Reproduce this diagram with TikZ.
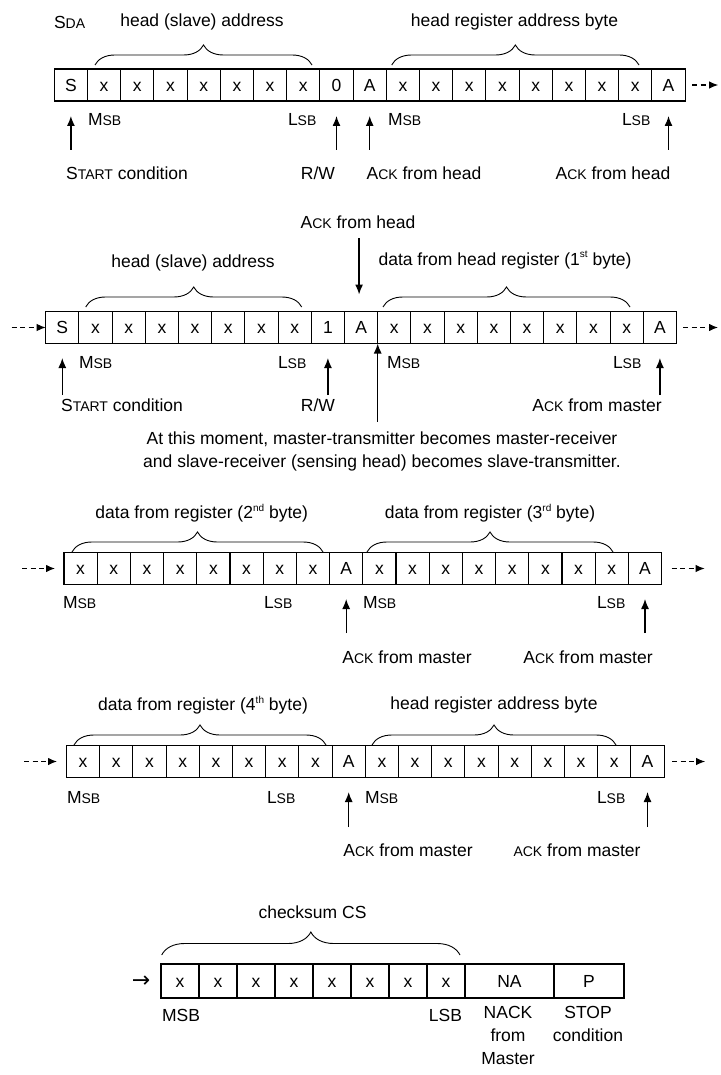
\documentclass[tikz,border=0pt]{standalone}
\usepackage{fontspec}
\setmainfont{Liberation Sans}
\newfontfamily\symbfont{DejaVu Sans}
\usetikzlibrary{arrows.meta,decorations.pathreplacing}
\newcommand\sml[1]{{\fontsize{14}{16}\selectfont #1}}
\newcommand\sups[1]{\raisebox{0.8ex}{\fontsize{10}{10}\selectfont #1}}
\begin{document}
\begin{tikzpicture}[x=1pt,y=-1pt,
  every node/.style={font=\fontsize{17.5}{23}\selectfont, inner sep=0pt, outer sep=0pt},
  cell/.style={draw, line width=1.1pt, minimum width=33.2pt, minimum height=32pt, anchor=west, text height=12.6pt, text depth=0pt},
  arr/.style={line width=1.3pt, -{Latex[length=10pt,width=8pt]}},
  darr/.style={line width=1.1pt, dash pattern=on 5pt off 3.5pt, -{Latex[length=9pt,width=7.5pt]}},
  brc/.style={line width=0.9pt, decorate, decoration={brace, amplitude=20pt}},
]
\useasboundingbox (0,0) rectangle (720,1075);

% ---------- Row 1 ----------
\foreach \t [count=\i from 0] in {S,x,x,x,x,x,x,x,0,A,x,x,x,x,x,x,x,x,A}
  \node[cell] (a\i) at ({54.3+\i*33.2},85) {\t};
\node[anchor=west] (sda) at (54,22) {S\sml{DA}};
\node (t1a) at (202,22) {head (slave) address};
\node (t1b) at (514.5,22) {head register address byte};
\draw[brc] (95,65) -- (312,65);
\draw[brc] (391.7,65) -- (639,65);
\node[anchor=west] (m1a) at (88,120) {M\sml{SB}};
\node[anchor=west] (l1a) at (288,120) {L\sml{SB}};
\node[anchor=west] (m1b) at (388,120) {M\sml{SB}};
\node[anchor=west] (l1b) at (622,120) {L\sml{SB}};
\node (s1) at (127,173) {S\sml{TART} condition};
\node (rw1) at (318,173) {R/W};
\node (k1a) at (424,173) {A\sml{CK} from head};
\node (k1b) at (613,173) {A\sml{CK} from head};
\draw[arr] (a0.south) ++(0,49) -- ++(0,-34);
\draw[arr] (a8.south) ++(0,49) -- ++(0,-34);
\draw[arr] (a9.south) ++(0,49) -- ++(0,-34);
\draw[arr] (a18.south) ++(0,49) -- ++(0,-34);
\draw[darr] (a18.east) ++(7,0) -- ++(26,0);

% ---------- Row 2 ----------
\foreach \t [count=\i from 0] in {S,x,x,x,x,x,x,x,1,A,x,x,x,x,x,x,x,x,A}
  \node[cell] (b\i) at ({45.7+\i*33.2},327.5) {\t};
\node (k2top) at (358,222) {A\sml{CK} from head};
\draw[arr] (b9.north) ++(-2,-73) -- ++(0,56);
\node (t2a) at (193,263) {head (slave) address};
\node (t2b) at (505,260) {data from head register (1\sups{st} byte)};
\draw[brc] (85.7,307) -- (301.7,307);
\draw[brc] (383,307) -- (630,307);
\node[anchor=west] (m2a) at (79,363) {M\sml{SB}};
\node[anchor=west] (l2a) at (278,363) {L\sml{SB}};
\node[anchor=west] (m2b) at (387,363) {M\sml{SB}};
\node[anchor=west] (l2b) at (613,363) {L\sml{SB}};
\node (s2) at (122,405) {S\sml{TART} condition};
\node (rw2) at (318,405) {R/W};
\node (k2b) at (597,405) {A\sml{CK} from master};
\draw[arr] (b0.south) ++(0,51.5) -- ++(0,-37);
\draw[arr] (b8.south) ++(0,51.5) -- ++(0,-37);
\draw[arr] (b18.south) ++(0,51.5) -- ++(0,-37);
\draw[arr] (b10.south west) ++(0,78) -- (b10.south west);
\draw[darr] (b0.west) ++(-34,0) -- (b0.west);
\draw[darr] (b18.east) ++(6.5,0) -- ++(35,0);
\node[align=center] (note) at (382,451.5) {At this moment, master-transmitter becomes master-receiver\\and slave-receiver (sensing head) becomes slave-transmitter.};

% ---------- Row 3 ----------
\foreach \t [count=\i from 0] in {x,x,x,x,x,x,x,x,A,x,x,x,x,x,x,x,x,A}
  \node[cell] (c\i) at ({64+\i*33.2},568.5) {\t};
\node (t3a) at (201.7,513) {data from register (2\sups{nd} byte)};
\node (t3b) at (490,513) {data from register (3\sups{rd} byte)};
\draw[brc] (72,552) -- (323,552);
\draw[brc] (367,552) -- (613,552);
\node[anchor=west] (m3a) at (63,603) {M\sml{SB}};
\node[anchor=west] (l3a) at (264,603) {L\sml{SB}};
\node[anchor=west] (m3b) at (363,603) {M\sml{SB}};
\node[anchor=west] (l3b) at (597,603) {L\sml{SB}};
\node (k3a) at (407,657) {A\sml{CK} from master};
\node (k3b) at (588,657) {A\sml{CK} from master};
\draw[arr] (c8.south) ++(0,48.5) -- ++(0,-34);
\draw[arr] (c17.south) ++(0,48.5) -- ++(0,-34);
\draw[darr] (c0.west) ++(-42,0) -- ++(33,0);
\draw[darr] (c17.east) ++(10,0) -- ++(33,0);

% ---------- Row 4 ----------
\foreach \t [count=\i from 0] in {x,x,x,x,x,x,x,x,A,x,x,x,x,x,x,x,x,A}
  \node[cell] (d\i) at ({66.5+\i*33.2},761.5) {\t};
\node (t4a) at (203,705) {data from register (4\sups{th} byte)};
\node (t4b) at (494,705) {head register address byte};
\draw[brc] (74,745) -- (326,745);
\draw[brc] (372,745) -- (616,745);
\node[anchor=west] (m4a) at (67,798) {M\sml{SB}};
\node[anchor=west] (l4a) at (267,798) {L\sml{SB}};
\node[anchor=west] (m4b) at (365,798) {M\sml{SB}};
\node[anchor=west] (l4b) at (597,798) {L\sml{SB}};
\node (k4a) at (408,850) {A\sml{CK} from master};
\node (k4b) at (577,850) {\sml{ACK} from master};
\draw[arr] (d8.south) ++(0,49.5) -- ++(0,-35);
\draw[arr] (d17.south) ++(0,49.5) -- ++(0,-35);
\draw[darr] (d0.west) ++(-42.5,0) -- ++(33,0);
\draw[darr] (d17.east) ++(8,0) -- ++(33,0);

% ---------- Row 5 ----------
\foreach \i in {0,...,7}
  \node[cell, minimum width=38pt, minimum height=34pt] (e\i) at ({161+\i*38},981) {x};
\node[cell, minimum width=89pt, minimum height=34pt] (ena) at (465,981) {NA};
\node[cell, minimum width=70pt, minimum height=34pt] (ep) at (554,981) {P};
\node (earr) at (141,982) {\symbfont\fontsize{22}{24}\selectfont →};
\node (t5) at (312.5,912) {checksum CS};
\draw[brc, decoration={brace, amplitude=23pt}] (161.7,955) -- (460,955);
\node[anchor=west] (m5) at (162,1015) {MSB};
\node[anchor=east] (l5) at (462,1015) {LSB};
\node[align=center, anchor=north] (nack) at (508,1006) {NACK\\from\\Master};
\node[align=center, anchor=north] (stop) at (588,1006) {STOP\\condition};
\end{tikzpicture}
\end{document}
